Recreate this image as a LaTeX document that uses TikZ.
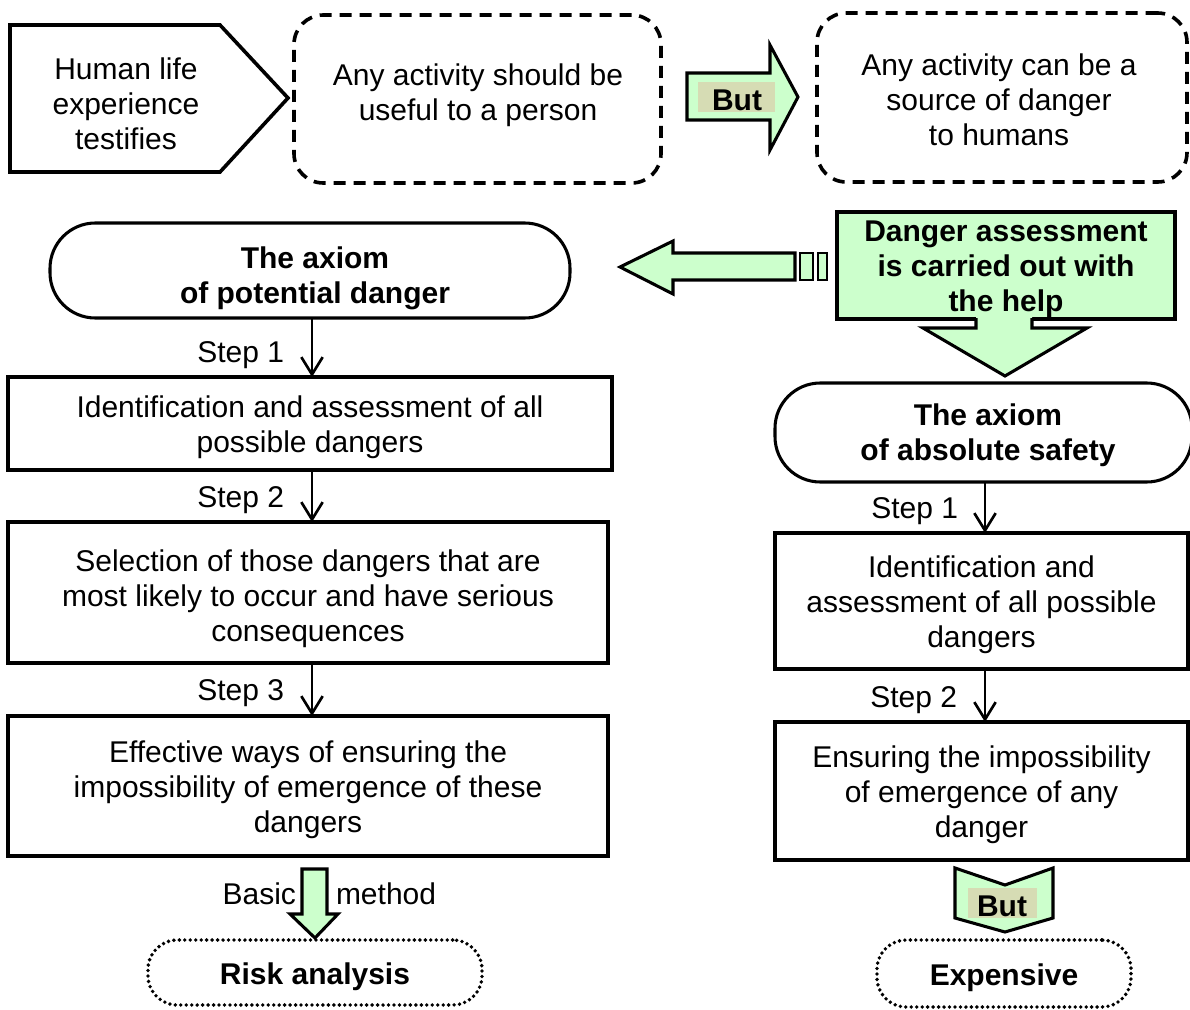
\documentclass[tikz,border=0pt]{standalone}
\usepackage{fontspec}
\setmainfont{Liberation Sans}
\usetikzlibrary{arrows.meta}
\definecolor{paleGreen}{HTML}{CCFFCC}
\definecolor{tanLabel}{HTML}{D6DCB4}
\newcommand\txtsize{\fontsize{22.5}{26.25}\selectfont}

\begin{document}
\begin{tikzpicture}[x=0.75pt,y=-0.75pt,
  base/.style={font=\txtsize, align=center, inner sep=0pt, outer sep=0pt},
  boxtext/.style={base, yshift=-3pt},
  boldtext/.style={boxtext, font=\txtsize\bfseries},
  plainbox/.style={base, draw, line width=2.5pt},
  dashbox/.style={base, draw, line width=2.7pt, dash pattern=on 9pt off 6pt, rounded corners=22pt},
  axiombox/.style={base, draw, line width=2.3pt, rounded corners=34pt},
  dotbox/.style={base, draw, line width=2.9pt, dash pattern=on 0pt off 4.1pt, line cap=round, rounded corners=22pt},
  steparrow/.style={draw, line width=2pt, -{Straight Barb[length=13pt,width=16pt,line width=2pt]}},
  steplabel/.style={base, anchor=east},
  greenshape/.style={fill=paleGreen, draw, line width=2.3pt, line join=miter},
  tanbox/.style={fill=tanLabel, draw=none},
  boldlabel/.style={base, font=\txtsize\bfseries}
]
\useasboundingbox (0,0) rectangle (1190,1010);

% ---------- top row ----------
\draw[line width=2.7pt, line join=miter] (10,25) -- (220,25) -- (288,98) -- (220,172) -- (10,172) -- cycle;
\node[base] (life) at (126,104) {Human life\\experience\\testifies};

\node[dashbox, minimum width=275.25pt, minimum height=126pt] (useful) at (477.5,99) {};
\node[base] (usefultxt) at (478,95) {Any activity should be\\useful to a person};

\node[dashbox, minimum width=277.5pt, minimum height=126.75pt] (source) at (1002,97.5) {};
\node[base] (sourcetxt) at (999,100) {Any activity can be a\\source of danger\\to humans};

% "But" arrow between the two statements
\path[greenshape] (687,73) -- (770,73) -- (770,45) -- (798,97) -- (770,150) -- (770,120) -- (687,120) -- cycle;
\fill[tanbox] (698,82) rectangle (775,112);
\node[boldlabel] (but1) at (737,100) {But};

% ---------- assessment box and its arrows ----------
\node[base, fill=paleGreen, draw, line width=2.3pt,
      minimum width=253.5pt, minimum height=80.25pt] (assess) at (1006,265.5) {};

% arrow pointing left to the first axiom
\path[greenshape] (620,267) -- (673,241) -- (673,253) -- (795,253) -- (795,280) -- (673,280) -- (673,294) -- cycle;
\path[greenshape, line width=1.7pt] (800,253) rectangle (813,280);
\path[greenshape, line width=1.7pt] (818,253) rectangle (827,280);

% arrow pointing down to the second axiom (it breaks the box's lower edge)
\path[fill=paleGreen] (976,316) -- (976,328) -- (923,328) -- (1005,376) -- (1087,328) -- (1032,328) -- (1032,316) -- cycle;
\draw[line width=2.3pt, line join=miter] (976,318) -- (976,328) -- (923,328) -- (1005,376) -- (1087,328) -- (1032,328) -- (1032,318);

% box text goes on top of the arrow
\node[boldtext] (assesstxt) at (1006,265.5) {Danger assessment\\is carried out with\\the help};

% ---------- left column ----------
\coordinate (colL) at (312,0);
\node[axiombox, minimum width=390pt, minimum height=71.25pt] (lax) at (310,270.5) {};
\node[boldlabel] (laxtxt) at (315,278) {The axiom\\of potential danger};

\node[plainbox, minimum width=453pt, minimum height=69.75pt,
  label={[boxtext]center:{Identification and assessment of all\\possible dangers}}] (l1) at (310,423.5) {};
\node[plainbox, minimum width=450pt, minimum height=105.75pt,
  label={[boxtext, yshift=-1.5pt]center:{Selection of those dangers that are\\most likely to occur and have serious\\consequences}}] (l2) at (308,592.5) {};
\node[plainbox, minimum width=450pt, minimum height=105pt,
  label={[boxtext]center:{Effective ways of ensuring the\\impossibility of emergence of these\\dangers}}] (l3) at (308,786) {};

\draw[steparrow] (colL |- lax.south) -- (colL |- l1.north);
\draw[steparrow] (colL |- l1.south) -- (colL |- l2.north);
\draw[steparrow] (colL |- l2.south) -- (colL |- l3.north);
\node[steplabel] (ls1) at (284,355) {Step 1};
\node[steplabel] (ls2) at (284,500) {Step 2};
\node[steplabel] (ls3) at (284,693) {Step 3};

\node[dotbox, minimum width=250.5pt, minimum height=48.75pt,
  label={[boldtext]center:Risk analysis}] (risk) at (315,972.5) {};

% "Basic method" arrow
\path[greenshape] (302,869) -- (327,869) -- (327,914) -- (338,914) -- (315,938) -- (290,914) -- (302,914) -- cycle;
\node[base, anchor=east] (basic) at (296,894) {Basic};
\node[base, anchor=west] (method) at (336,894) {method};

% ---------- right column ----------
\coordinate (colR) at (985,0);
\node[axiombox, minimum width=312.75pt, minimum height=74.25pt] (rax) at (983.5,432.5) {};
\node[boldlabel] (raxtxt) at (988,435) {The axiom\\of absolute safety};

\node[plainbox, minimum width=309.75pt, minimum height=102pt,
  label={[boxtext]center:{Identification and\\assessment of all possible\\dangers}}] (r1) at (981.5,601) {};
\node[plainbox, minimum width=309.75pt, minimum height=103.5pt,
  label={[boxtext]center:{Ensuring the impossibility\\of emergence of any\\danger}}] (r2) at (981.5,791) {};

\draw[steparrow] (colR |- rax.south) -- (colR |- r1.north);
\draw[steparrow] (colR |- r1.south) -- (colR |- r2.north);
\node[steplabel] (rs1) at (958,511) {Step 1};
\node[steplabel] (rs2) at (957,700) {Step 2};

% "But" chevron
\path[greenshape] (955,868) -- (1005,885) -- (1053,868) -- (1053,918) -- (1005,932) -- (955,918) -- cycle;
\fill[tanbox] (968,888) rectangle (1037,918);
\node[boldlabel] (but2) at (1002,906) {But};

\node[dotbox, minimum width=190.5pt, minimum height=50.25pt,
  label={[boldtext]center:Expensive}] (expensive) at (1004,973.5) {};
\end{tikzpicture}
\end{document}
